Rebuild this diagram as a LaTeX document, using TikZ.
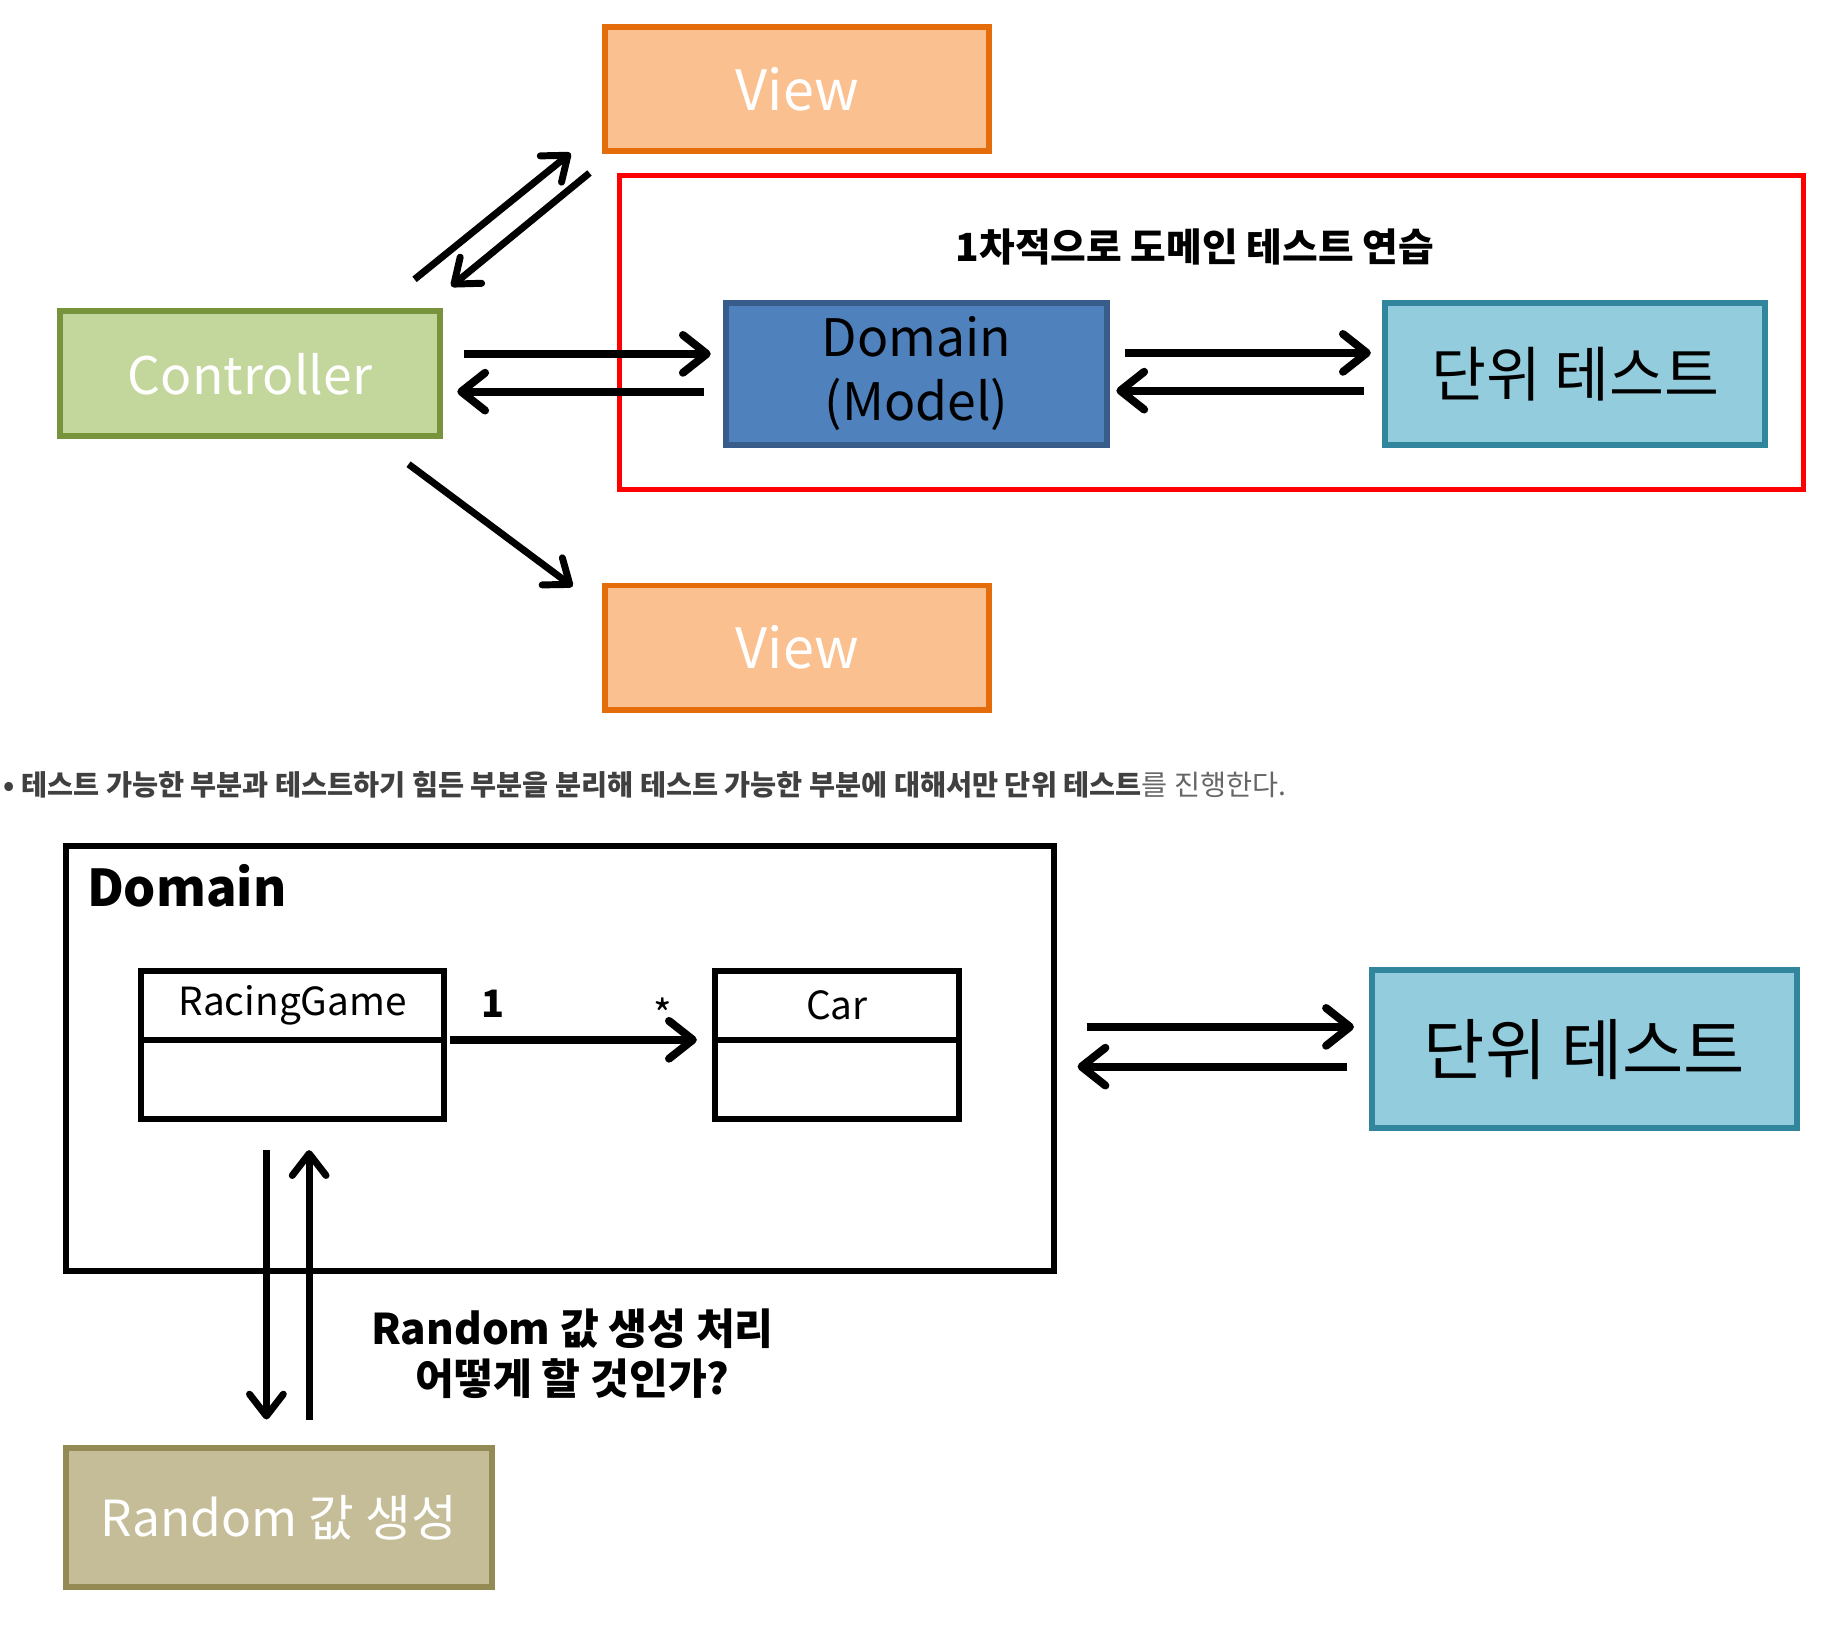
\documentclass[tikz,border=0pt]{standalone}
\usepackage{fontspec}
\setmainfont{Noto Sans CJK KR}
\usepackage{xcolor}
\usepackage{tikz}
\usetikzlibrary{arrows.meta, positioning}
\definecolor{viewfill}{HTML}{FAC090}
\definecolor{viewline}{HTML}{E46C0A}
\definecolor{ctrlfill}{HTML}{C3D69B}
\definecolor{ctrlline}{HTML}{77933C}
\definecolor{domfill}{HTML}{4F81BD}
\definecolor{domline}{HTML}{385D8A}
\definecolor{unitfill}{HTML}{93CDDD}
\definecolor{unitline}{HTML}{31859C}
\definecolor{randfill}{HTML}{C4BD97}
\definecolor{randline}{HTML}{948A54}

\begin{document}
\begin{tikzpicture}[x=1pt,y=-1pt,
  box/.style={draw,line width=6pt,inner sep=0pt,outer sep=0pt},
  cls/.style={draw,line width=6pt,inner sep=0pt,outer sep=0pt,minimum width=#1},
  arr/.style={line width=8pt,-{Straight Barb[length=24pt,width=38pt,round]}},
  thinarr/.style={line width=7pt,-{Straight Barb[length=22pt,width=34pt,round]}}]
\useasboundingbox (0,0) rectangle (1853,1654);
% upper part
\node[box,fill=viewfill,draw=viewline,text=white,minimum width=386pt,minimum height=125pt,
  font=\fontsize{56}{60}\selectfont] (viewtop) at (802,89.5) {View};
\node[box,fill=viewfill,draw=viewline,text=white,minimum width=386pt,minimum height=125pt,
  font=\fontsize{56}{60}\selectfont] (viewbot) at (802,651.5) {View};
\node[box,fill=ctrlfill,draw=ctrlline,text=white,minimum width=383pt,minimum height=126pt,
  font=\fontsize{52}{60}\selectfont] (ctrl) at (251.5,376) {Controller};
\node[box,fill=domfill,draw=domline,minimum width=384pt,minimum height=143pt,align=center,
  font=\fontsize{52}{64}\selectfont] (domain) at (922,376) {Domain\\(Model)};
\node[box,fill=unitfill,draw=unitline,minimum width=383pt,minimum height=143pt,
  font=\fontsize{60}{64}\selectfont] (unittop) at (1584.5,376) {단위 테스트};
\draw[red,line width=5pt] (623,177) rectangle (1814,492);
\node[font=\fontsize{39}{44}\selectfont\bfseries] (goal) at (1202,248) {1차적으로 도메인 테스트 연습};

\draw[arr] ([xshift=24pt,yshift=20pt]ctrl.east) -- ([xshift=-15pt,yshift=20pt]domain.west);
\draw[arr] ([xshift=-22pt,yshift=-18pt]domain.west) -- ([xshift=17pt,yshift=-18pt]ctrl.east);
\draw[arr] ([xshift=18pt,yshift=21pt]domain.east) -- ([xshift=-14pt,yshift=21pt]unittop.west);
\draw[arr] ([xshift=-21pt,yshift=-17pt]unittop.west) -- ([xshift=9pt,yshift=-17pt]domain.east);
\draw[thinarr] ([shift={(-26pt,32pt)}]ctrl.north east) -- ([shift={(-35pt,-2pt)}]viewtop.south west);
\draw[thinarr] ([shift={(-16pt,-22pt)}]viewtop.south west) -- ([shift={(11pt,25pt)}]ctrl.north east);
\draw[thinarr] ([shift={(-32pt,-28pt)}]ctrl.south east) -- ([shift={(-33pt,-1pt)}]viewbot.north west);

% note line
\node[anchor=west,text=black!75,font=\fontsize{28.5}{32}\selectfont] (note) at (0,790)
  {\textbf{• 테스트 가능한 부분과 테스트하기 힘든 부분을 분리해 테스트 가능한 부분에 대해서만 단위 테스트}\textcolor{black!60}{를 진행한다.}};

% lower part
\node[draw,line width=6pt,minimum width=994pt,minimum height=428pt] (domframe) at (563,1065) {};
\node[anchor=west,font=\fontsize{51}{60}\selectfont\bfseries] (domlabel) at (84,891) {Domain};
\node[cls=305pt,minimum height=69pt,font=\fontsize{39}{48}\selectfont] (rg) at (294.5,1011.5) {RacingGame};
\node[cls=305pt,minimum height=80pt,below=0pt of rg] (rgbody) {};
\node[cls=246pt,minimum height=69pt,font=\fontsize{39}{48}\selectfont] (car) at (842,1011.5) {Car};
\node[cls=246pt,minimum height=80pt,below=0pt of car] (carbody) {};
\draw[arr] ([xshift=6pt]rg.south east) -- ([xshift=-18pt]car.south west);
\node[font=\fontsize{38}{40}\selectfont\bfseries] (one) at (496,1010) {1};
\node[font=\fontsize{40}{44}\selectfont] (many) at (667,1020) {*};

\node[box,fill=unitfill,draw=unitline,minimum width=428pt,minimum height=159pt,
  font=\fontsize{67}{72}\selectfont] (unitbot) at (1594,1055.5) {단위 테스트};
\draw[arr] ([shift={(30pt,32pt)}]domframe.east) -- ([shift={(-18pt,22.5pt)}]unitbot.west);
\draw[arr] ([shift={(-25pt,-17.5pt)}]unitbot.west) -- ([shift={(21pt,-8pt)}]domframe.east);

\node[box,fill=randfill,draw=randline,text=white,minimum width=429pt,minimum height=139pt,
  font=\fontsize{50}{60}\selectfont] (rand) at (280.5,1526.5) {Random 값 생성};
\draw[thinarr] ([shift={(-26.5pt,-31pt)}]rgbody.south) -- ([shift={(-12.5pt,29pt)}]rand.north);
\draw[thinarr] ([shift={(30.5pt,29pt)}]rand.north) -- ([shift={(16.5pt,-31pt)}]rgbody.south);
\node[align=center,font=\fontsize{42.5}{50}\selectfont\bfseries] (ask) at (576,1362)
  {Random 값 생성 처리\\어떻게 할 것인가?};
\end{tikzpicture}
\end{document}
